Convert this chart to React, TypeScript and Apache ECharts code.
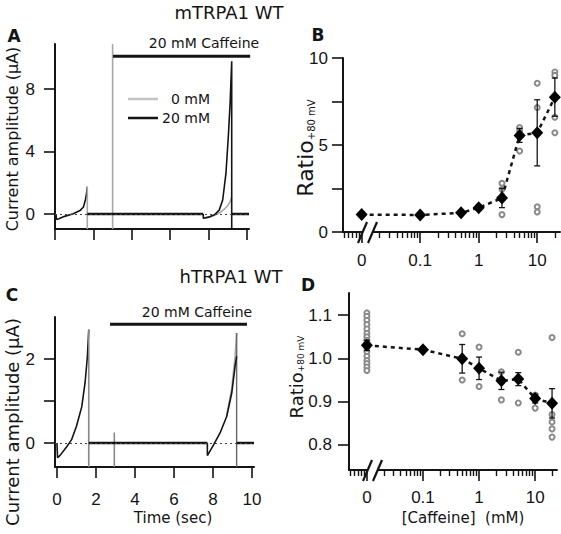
import React, { useEffect, useRef } from "react";
import * as echarts from "echarts";

// ---------- Panel A: mTRPA1 WT current traces [time (s), current (µA)] ----------
const A_RAMP1 = [[0.05, 0], [0.08, -0.35], [0.2, -0.3], [0.5, -0.15], [0.95, 0.02], [1.3, 0.22], [1.48, 0.45], [1.58, 0.9], [1.64, 1.3], [1.68, 1.75]];
const A_RAMP1_DROP = [[1.68, 1.75], [1.68, -0.96]];
const A_HOLD1 = [[1.68, 0], [7.72, 0]];
const A_SPIKE = [[3.0, -0.96], [3.0, 10.9]];
const A_20MM_RAMP2 = [[7.72, 0], [7.72, -0.27], [8.0, -0.2], [8.3, -0.05], [8.55, 0.25], [8.73, 0.9], [8.9, 2.6], [9.03, 5.1], [9.12, 7.2], [9.2, 9.8], [9.2, -0.96]];
const A_0MM_RAMP2 = [[7.72, -0.27], [8.0, -0.2], [8.3, -0.08], [8.6, 0.1], [8.85, 0.35], [9.0, 0.55], [9.12, 0.8], [9.2, 1.1]];
const A_HOLD2 = [[9.2, 0], [10.1, 0]];
const A_CAFFEINE_BAR = [[3.02, 10.12], [10.16, 10.12]];

// ---------- Panel C: hTRPA1 WT current traces ----------
const C_RAMP1 = [[0, 0], [0.03, -0.35], [0.15, -0.3], [0.5, -0.09], [0.75, 0.08], [1.0, 0.4], [1.27, 0.86], [1.44, 1.43], [1.56, 2.06], [1.63, 2.7]];
const C_RAMP1_DROP = [[1.63, 2.7], [1.63, -0.57]];
const C_HOLD1 = [[1.63, 0], [7.71, 0]];
const C_SPIKE = [[2.94, -0.57], [2.94, 0.25]];
const C_20MM_RAMP2 = [[7.71, 0], [7.71, -0.3], [8.02, -0.05], [8.36, 0.24], [8.7, 0.63], [8.96, 1.19], [9.13, 1.83], [9.21, 2.06]];
const C_0MM_RAMP2 = [[8.7, 0.66], [8.96, 1.3], [9.13, 2.05], [9.21, 2.62]];
const C_RAMP2_DROP = [[9.21, 2.62], [9.21, -0.57]];
const C_HOLD2 = [[9.21, 0], [10.1, 0]];
const C_CAFFEINE_BAR = [[2.72, 2.83], [9.74, 2.83]];

const TIME_TICKS = [0, 2, 4, 6, 8, 10];

// ---------- Panels B & D: dose response ----------
const CONC = [0, 0.1, 0.5, 1, 2.5, 5, 10, 20]; // mM
const B_MEAN = [1.0, 0.98, 1.1, 1.4, 1.95, 5.55, 5.7, 7.75];
const B_SEM = [0.08, 0.05, 0.1, 0.15, 0.55, 0.4, 1.9, 1.1];
const B_INDIV = [
  [2.5, 2.8], [2.5, 2.45], [2.5, 1.0],
  [5, 6.0], [5, 5.8], [5, 4.65],
  [10, 8.55], [10, 7.15], [10, 1.45], [10, 1.15],
  [20, 9.2], [20, 9.0], [20, 6.6], [20, 5.7],
];
const D_MEAN = [1.03, 1.02, 0.999, 0.977, 0.948, 0.952, 0.907, 0.896];
const D_SEM = [0.012, 0.006, 0.033, 0.026, 0.02, 0.015, 0.01, 0.034];
const D_INDIV = [
  [0, 1.105], [0, 1.097], [0, 1.088], [0, 1.078], [0, 1.068], [0, 1.058], [0, 1.05], [0, 1.042],
  [0, 1.035], [0, 1.025], [0, 1.015], [0, 1.005], [0, 0.995], [0, 0.988], [0, 0.98], [0, 0.972],
  [0.5, 1.057], [0.5, 0.95],
  [1, 1.026], [1, 0.935],
  [2.5, 0.969], [2.5, 0.904],
  [5, 1.014], [5, 0.897],
  [10, 0.915], [10, 0.885],
  [20, 1.048], [20, 0.87], [20, 0.853], [20, 0.837], [20, 0.818],
];
const CONC_TICKS = [0, 0.1, 1, 10];
const CONC_TICK_LABELS = ["0", "0.1", "1", "10"];
const CONC_MINOR_TICKS = [0.005, 0.006, 0.007, 0.008, 0.009, 0.02, 0.03, 0.04, 0.05, 0.06, 0.07, 0.08, 0.09,
  0.2, 0.3, 0.4, 0.5, 0.6, 0.7, 0.8, 0.9, 2, 3, 4, 5, 6, 7, 8, 9, 20];
const ZERO_POS = 0.01; // where the 0 mM point is placed on the broken log axis

const FONT = "'DejaVu Sans', sans-serif";
const NUM_FONT = "'Liberation Sans', Arial, sans-serif";
const INK = "#141414";
const GRAY = "#a8a8a8";

const xLog = (c: number) => Math.log10(c === 0 ? ZERO_POS : c);
const LOG_MIN = Math.log10(0.0048);
const LOG_MAX = Math.log10(24.5);

function valueAxis(grid: number, o: any) {
  return {
    type: "value",
    gridIndex: grid,
    splitLine: { show: false },
    axisLine: { show: true, onZero: false, lineStyle: { color: INK, width: 2 } },
    axisTick: { show: true, length: 11, lineStyle: { color: INK, width: 1.6 }, customValues: o.ticks },
    axisLabel: {
      show: !!o.labels,
      customValues: o.labels,
      color: INK,
      fontFamily: NUM_FONT,
      fontSize: 17,
      margin: o.margin ?? 18,
      formatter: o.formatter,
    },
    min: o.min,
    max: o.max,
    position: o.position,
  };
}

function errRender(params: any, api: any) {
  const x = api.value(0);
  const lo = api.value(1);
  const hi = api.value(2);
  const t = api.coord([x, hi]);
  const b = api.coord([x, lo]);
  const w = 3;
  const st = { stroke: INK, lineWidth: 1.3 };
  return {
    type: "group",
    children: [
      { type: "line", shape: { x1: t[0], y1: t[1], x2: b[0], y2: b[1] }, style: st },
      { type: "line", shape: { x1: t[0] - w, y1: t[1], x2: t[0] + w, y2: t[1] }, style: st },
      { type: "line", shape: { x1: b[0] - w, y1: b[1], x2: b[0] + w, y2: b[1] }, style: st },
    ],
  };
}

function line(data: number[][], xi: number, yi: number, color: string, width: number, extra: any = {}) {
  return {
    type: "line",
    xAxisIndex: xi,
    yAxisIndex: yi,
    data,
    symbol: "none",
    showSymbol: false,
    lineStyle: { color, width },
    z: 3,
    ...extra,
  };
}

function doseSeries(mean: number[], sem: number[], indiv: number[][], xi: number, yi: number) {
  return [
    {
      type: "scatter",
      xAxisIndex: xi,
      yAxisIndex: yi,
      data: indiv.map(([c, v]) => [xLog(c), v]),
      symbol: "emptyCircle",
      symbolSize: 5,
      itemStyle: { color: "#8a8a8a", borderColor: "#8a8a8a", borderWidth: 1, opacity: 1 },
      z: 2,
    },
    {
      type: "line",
      xAxisIndex: xi,
      yAxisIndex: yi,
      data: CONC.map((c, i) => [xLog(c), mean[i]]),
      symbol: "none",
      lineStyle: { color: INK, width: 2.5, type: [4, 4] },
      z: 3,
    },
    {
      type: "custom",
      xAxisIndex: xi,
      yAxisIndex: yi,
      renderItem: errRender,
      encode: { x: 0, y: [1, 2] },
      data: CONC.map((c, i) => [xLog(c), mean[i] - sem[i], mean[i] + sem[i]]),
      z: 4,
    },
    {
      type: "scatter",
      xAxisIndex: xi,
      yAxisIndex: yi,
      data: CONC.map((c, i) => [xLog(c), mean[i]]),
      symbol: "diamond",
      symbolSize: [12, 13],
      itemStyle: { color: "#000", opacity: 1 },
      z: 5,
    },
  ];
}

function txt(text: string, x: number, y: number, size: number, extra: any = {}) {
  return {
    type: "text",
    x,
    y,
    z: 100,
    rotation: extra.rotation || 0,
    style: {
      text,
      fill: INK,
      fontSize: size,
      fontFamily: FONT,
      fontWeight: extra.bold ? "bold" : "normal",
      align: extra.align || "center",
      textAlign: extra.align || "center",
      verticalAlign: "middle",
      textVerticalAlign: "middle",
      rich: extra.rich,
    },
  };
}

function gline(x1: number, y1: number, x2: number, y2: number, color: string, w: number) {
  return { type: "line", z: 100, shape: { x1, y1, x2, y2 }, style: { stroke: color, lineWidth: w } };
}

export default function App() {
  const ref = useRef<HTMLDivElement>(null);
  useEffect(() => {
    if (!ref.current) return;
    const chart = echarts.init(ref.current, undefined, { renderer: "svg" });
    const logTicks = CONC_TICKS.map(xLog);
    const logLabel = (v: number) => {
      const i = logTicks.findIndex((p) => Math.abs(p - v) < 1e-6);
      return i >= 0 ? CONC_TICK_LABELS[i] : "";
    };
    const minorTicks = CONC_MINOR_TICKS.map(xLog);
    const zeroMark = {
      silent: true,
      symbol: "none",
      label: { show: false },
      lineStyle: { color: "#444", width: 1, type: [2, 3] },
      data: [{ yAxis: 0 }],
    };

    const option: any = {
      animation: false,
      backgroundColor: "#ffffff",
      grid: [
        { left: 55, top: 44, width: 194, height: 185 },
        { left: 343, top: 58, width: 217, height: 174 },
        { left: 55, top: 317, width: 199, height: 150 },
        { left: 349, top: 293, width: 208, height: 177 },
      ],
      xAxis: [
        valueAxis(0, { min: 0, max: 10.1, ticks: TIME_TICKS, position: "bottom" }),
        valueAxis(1, { min: LOG_MIN, max: LOG_MAX, ticks: logTicks, labels: logTicks, formatter: logLabel, margin: 20, position: "bottom" }),
        {
          ...valueAxis(1, { min: LOG_MIN, max: LOG_MAX, ticks: minorTicks, position: "bottom" }),
          axisLine: { show: false, onZero: false },
          axisTick: { show: true, length: 6, lineStyle: { color: INK, width: 1.4 }, customValues: minorTicks },
        },
        valueAxis(2, { min: -0.1, max: 10.1, ticks: TIME_TICKS, labels: TIME_TICKS, margin: 24, position: "bottom" }),
        valueAxis(3, { min: LOG_MIN, max: LOG_MAX, ticks: logTicks, labels: logTicks, formatter: logLabel, margin: 19, position: "bottom" }),
        {
          ...valueAxis(3, { min: LOG_MIN, max: LOG_MAX, ticks: minorTicks, position: "bottom" }),
          axisLine: { show: false, onZero: false },
          axisTick: { show: true, length: 6, lineStyle: { color: INK, width: 1.4 }, customValues: minorTicks },
        },
      ],
      yAxis: [
        valueAxis(0, { min: -0.96, max: 10.9, ticks: [0, 4, 8], labels: [0, 4, 8], margin: 20 }),
        valueAxis(1, { min: 0, max: 10, ticks: [0, 2.5, 5, 7.5, 10], labels: [0, 5, 10], margin: 15 }),
        valueAxis(2, { min: -0.571, max: 3.0, ticks: [0, 1, 2], labels: [0, 2], margin: 20 }),
        valueAxis(3, { min: 0.742, max: 1.151, ticks: [0.8, 0.9, 1.0, 1.1], labels: [0.8, 0.9, 1.0, 1.1], margin: 17, formatter: (v: number) => v.toFixed(1) }),
      ],
      series: [
        // Panel A
        line(A_RAMP1, 0, 0, INK, 1.6, { markLine: zeroMark }),
        line(A_RAMP1_DROP, 0, 0, GRAY, 1.6),
        line(A_SPIKE, 0, 0, GRAY, 1.6),
        line(A_0MM_RAMP2, 0, 0, GRAY, 1.6),
        line(A_HOLD1, 0, 0, INK, 2.4),
        line(A_20MM_RAMP2, 0, 0, INK, 1.6),
        line(A_HOLD2, 0, 0, INK, 2.4),
        line(A_CAFFEINE_BAR, 0, 0, INK, 3, { clip: false }),
        // Panel C
        line(C_RAMP1, 3, 2, INK, 1.6, { markLine: zeroMark }),
        line(C_RAMP1_DROP, 3, 2, "#888", 1.6),
        line(C_SPIKE, 3, 2, "#888", 1.6),
        line(C_0MM_RAMP2, 3, 2, GRAY, 1.6),
        line(C_RAMP2_DROP, 3, 2, "#666", 1.4),
        line(C_HOLD1, 3, 2, INK, 2.4),
        line(C_20MM_RAMP2, 3, 2, INK, 1.6),
        line(C_HOLD2, 3, 2, INK, 2.4),
        line(C_CAFFEINE_BAR, 3, 2, INK, 3, { clip: false }),
        // Panels B & D
        ...doseSeries(B_MEAN, B_SEM, B_INDIV, 1, 1),
        ...doseSeries(D_MEAN, D_SEM, D_INDIV, 4, 3),
      ],
      graphic: [
        txt("mTRPA1 WT", 229, 12, 18),
        txt("hTRPA1 WT", 231, 276, 18),
        txt("A", 14, 36, 17, { bold: true }),
        txt("B", 318, 35, 17, { bold: true }),
        txt("C", 12, 295, 17, { bold: true }),
        txt("D", 308, 285, 17, { bold: true }),
        txt("20 mM Caffeine", 204, 43, 14),
        txt("20 mM Caffeine", 197, 312, 14),
        gline(128, 99, 158, 99, "#c4c4c4", 2.5),
        gline(128, 118, 158, 118, INK, 2.5),
        txt("0 mM", 210, 99, 14, { align: "right" }),
        txt("20 mM", 210, 118, 14, { align: "right" }),
        txt("Current amplitude (µA)", 12, 139, 16, { rotation: Math.PI / 2 }),
        txt("Current amplitude (µA)", 12, 422, 18, { rotation: Math.PI / 2 }),
        txt("Ratio{sub|+80 mV}", 305, 148, 22, { rotation: Math.PI / 2, rich: { sub: { fontSize: 10, fontFamily: FONT, fill: INK, verticalAlign: "bottom" } } }),
        txt("Ratio{sub|+80 mV}", 296, 377, 18, { rotation: Math.PI / 2, rich: { sub: { fontSize: 9, fontFamily: FONT, fill: INK, verticalAlign: "bottom" } } }),
        txt("Time (sec)", 173, 518, 15),
        txt("[Caffeine]  (mM)", 463, 518, 15),
        // axis breaks
        { type: "rect", z: 99, shape: { x: 363, y: 228, width: 9, height: 8 }, style: { fill: "#fff" } },
        gline(358, 243, 367, 222, INK, 2.2),
        gline(368, 243, 377, 222, INK, 2.2),
        { type: "rect", z: 99, shape: { x: 368, y: 466, width: 9, height: 8 }, style: { fill: "#fff" } },
        gline(363, 481, 372, 460, INK, 2.2),
        gline(373, 481, 382, 460, INK, 2.2),
      ],
    };
    chart.setOption(option);
    return () => chart.dispose();
  }, []);
  return <div ref={ref} style={{ position: "fixed", left: 0, top: 0, width: 561, height: 534, background: "#fff" }} />;
}
